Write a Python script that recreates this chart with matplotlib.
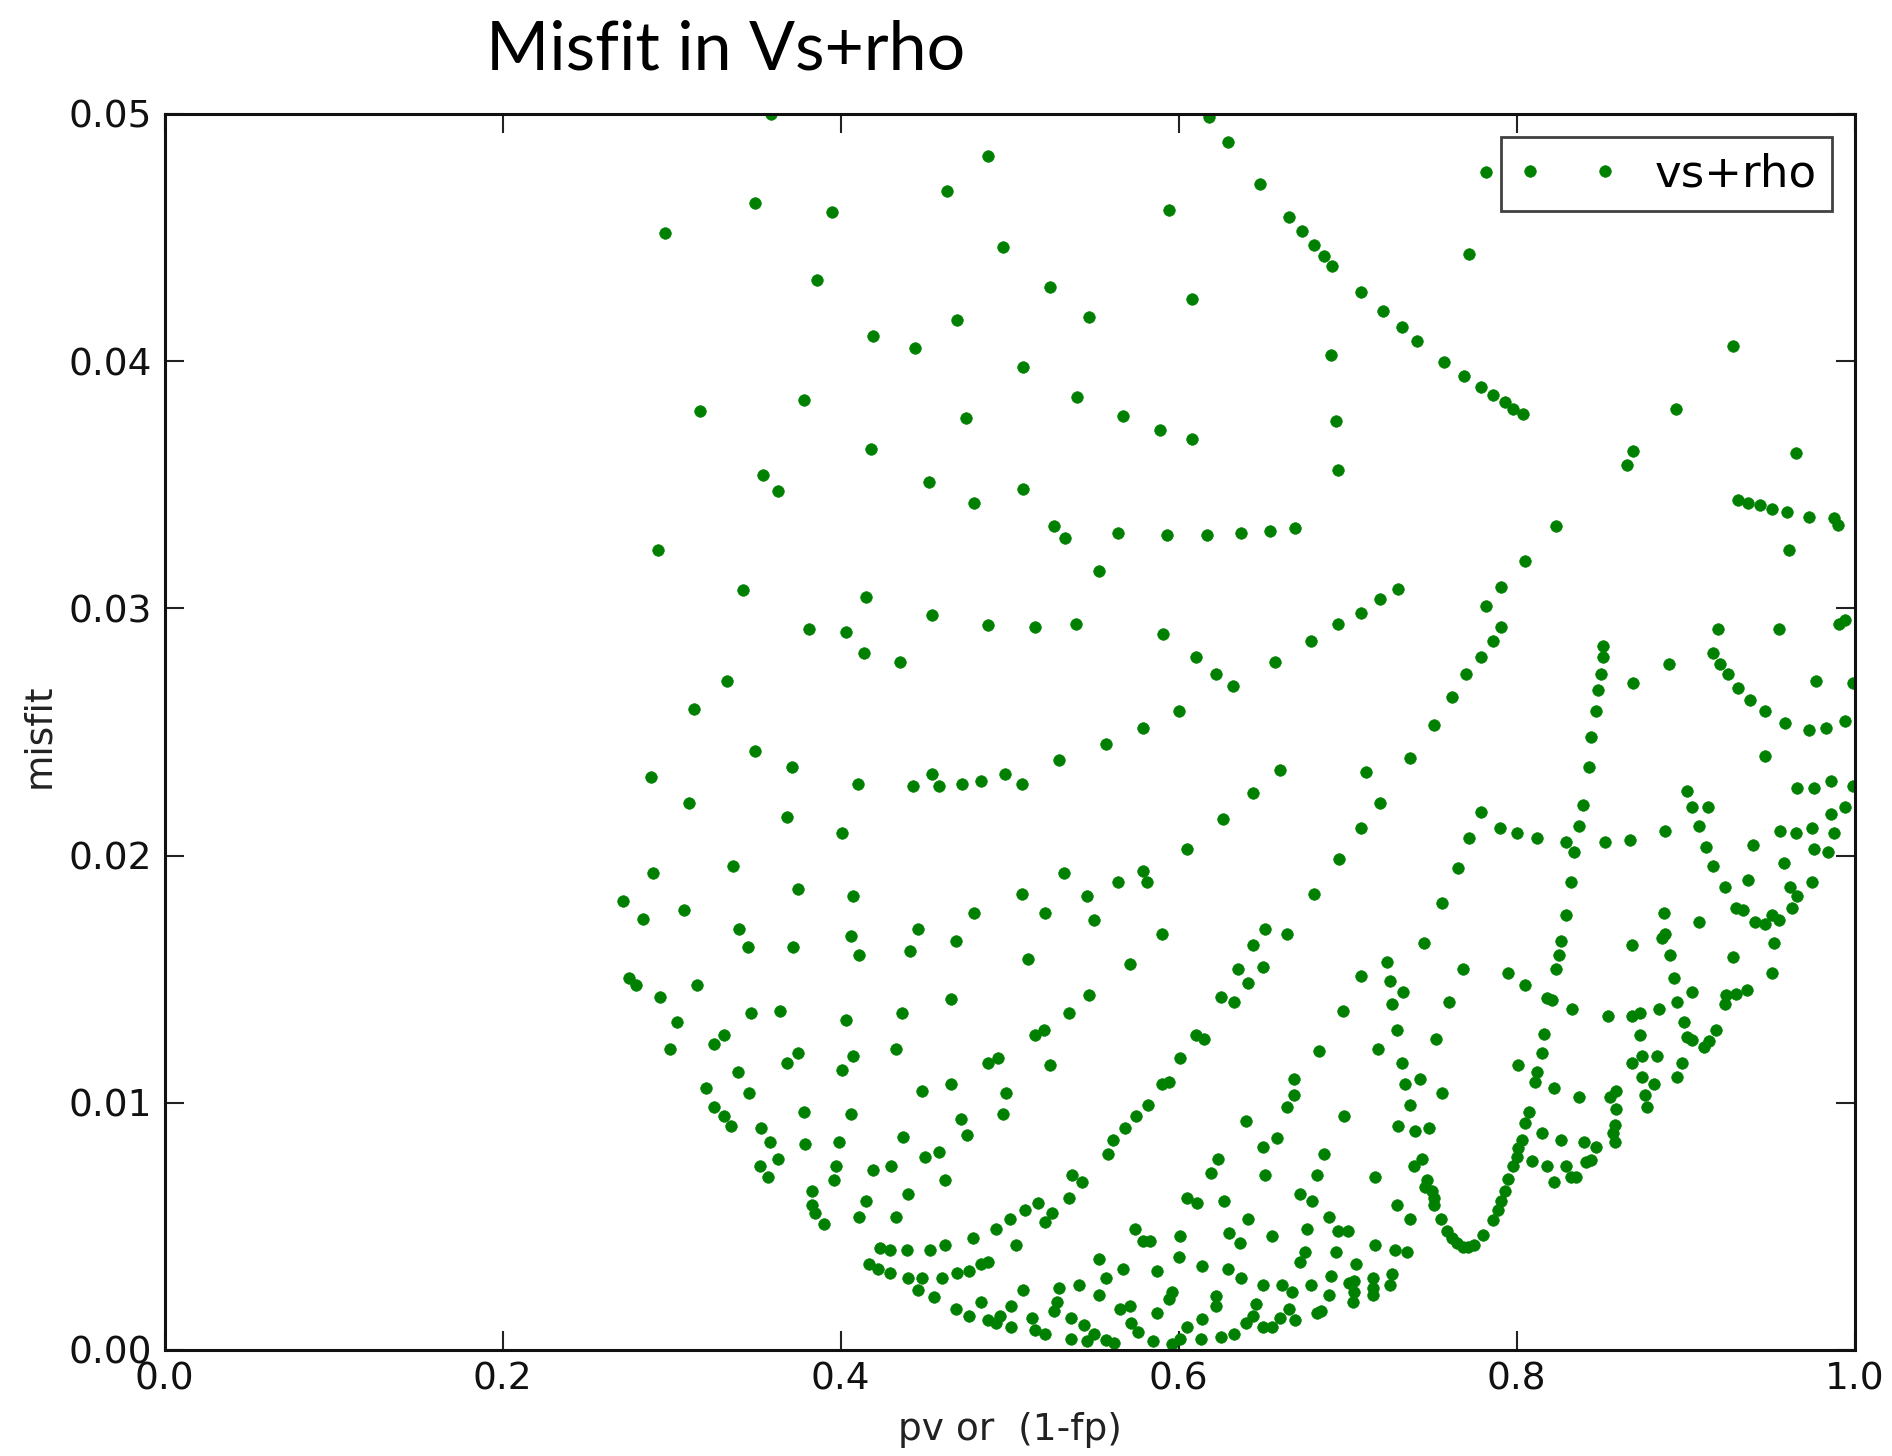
import matplotlib
matplotlib.use("Agg")
import matplotlib.pyplot as plt

# Misfit of the vs+rho inversion against pv / (1-fp)
pv = [
    # upper-left fan
    0.359, 0.487, 0.463, 0.349, 0.395, 0.296, 0.496, 0.386, 0.469, 0.419,
    0.444, 0.508, 0.317, 0.378, 0.474, 0.418, 0.354, 0.363, 0.452, 0.479,
    0.508,
    # upper-middle arcs
    0.618, 0.629, 0.648, 0.594, 0.665, 0.673, 0.680, 0.686, 0.691, 0.524,
    0.608, 0.547, 0.708, 0.721, 0.732, 0.741, 0.757, 0.690, 0.540, 0.567,
    0.589, 0.608, 0.693, 0.694,
    # upper-right
    0.782, 0.772, 0.928, 0.769, 0.779, 0.786, 0.793, 0.798, 0.804, 0.894,
    0.869, 0.865, 0.965, 0.931, 0.937, 0.944, 0.951, 0.960, 0.973, 0.988,
    0.990,
    # middle-left
    0.292, 0.342, 0.415, 0.454, 0.487, 0.381, 0.403, 0.414, 0.435, 0.333,
    0.313, 0.349, 0.371, 0.288, 0.410, 0.443, 0.454, 0.458, 0.472, 0.483,
    0.497, 0.507, 0.310, 0.368, 0.401, 0.289, 0.336, 0.375, 0.407, 0.507,
    0.271, 0.283, 0.307, 0.479, 0.340, 0.406, 0.446, 0.468,
    # middle
    0.526, 0.533, 0.564, 0.593, 0.617, 0.637, 0.654, 0.669, 0.553, 0.515,
    0.539, 0.591, 0.610, 0.622, 0.632, 0.657, 0.678, 0.694, 0.708, 0.719,
    0.730, 0.751, 0.737, 0.711, 0.719, 0.708, 0.695, 0.680, 0.756, 0.745,
    0.600, 0.579, 0.557, 0.529, 0.660, 0.644, 0.626, 0.605, 0.579, 0.581,
    0.564, 0.546, 0.532, 0.521, 0.550, 0.590, 0.651, 0.664, 0.644,
    # middle-right
    0.823, 0.961, 0.805, 0.791, 0.782, 0.791, 0.786, 0.779, 0.770, 0.762,
    0.919, 0.955, 0.991, 0.994, 0.851, 0.851, 0.850, 0.848, 0.847, 0.844,
    0.843, 0.839, 0.837, 0.834, 0.829, 0.832, 0.829, 0.826, 0.869, 0.890,
    0.916, 0.920, 0.925, 0.931, 0.938, 0.947, 0.959, 0.973, 0.983, 0.994,
    0.977, 0.999, 0.947, 0.966, 0.976, 0.986, 0.999, 0.994, 0.986, 0.975,
    0.988, 0.956, 0.965, 0.976, 0.984, 0.958, 0.975, 0.962, 0.966, 0.963,
    0.940, 0.937, 0.901, 0.904, 0.913, 0.908, 0.912, 0.916, 0.923, 0.930,
    0.934, 0.941, 0.947, 0.951, 0.955, 0.952, 0.888, 0.867, 0.852, 0.812,
    0.800, 0.790, 0.779, 0.772, 0.765, 0.887, 0.888, 0.886, 0.908, 0.868,
    # lower-left
    0.345, 0.372, 0.411, 0.441, 0.511, 0.275, 0.279, 0.315, 0.293, 0.465,
    0.347, 0.364, 0.403, 0.436, 0.303, 0.331, 0.325, 0.299, 0.433, 0.375,
    0.368, 0.407, 0.401, 0.487, 0.493, 0.339, 0.320, 0.346, 0.448, 0.465,
    0.498, 0.325, 0.331, 0.335, 0.378, 0.406, 0.496, 0.471, 0.475, 0.353,
    0.358, 0.379, 0.399, 0.437, 0.363, 0.352, 0.357, 0.397, 0.396, 0.419,
    0.430, 0.450, 0.458, 0.462, 0.440, 0.383, 0.383, 0.385, 0.390, 0.415,
    0.411, 0.433, 0.509, 0.500, 0.492, 0.478, 0.504, 0.462, 0.453, 0.439,
    0.429, 0.423, 0.417, 0.422, 0.429, 0.440, 0.448, 0.460, 0.469, 0.476,
    0.483, 0.487, 0.446, 0.455, 0.468, 0.476, 0.483, 0.487, 0.492, 0.494,
    0.501, 0.501, 0.508,
    # lower-middle
    0.571, 0.635, 0.650, 0.641, 0.625, 0.633, 0.547, 0.535, 0.520, 0.515,
    0.524, 0.601, 0.610, 0.615, 0.590, 0.594, 0.582, 0.575, 0.568, 0.561,
    0.558, 0.537, 0.543, 0.535, 0.517, 0.525, 0.521, 0.574, 0.579, 0.583,
    0.601, 0.600, 0.553, 0.567, 0.587, 0.557, 0.541, 0.529, 0.553, 0.528,
    0.526, 0.513, 0.515, 0.521, 0.536, 0.544, 0.550, 0.546, 0.536, 0.557,
    0.562, 0.565, 0.571, 0.572, 0.576, 0.585, 0.587, 0.594, 0.596, 0.596,
    0.601, 0.605, 0.613, 0.614, 0.622, 0.622, 0.625, 0.633, 0.614, 0.629,
    0.637, 0.650, 0.646, 0.644, 0.640, 0.650, 0.655, 0.660, 0.665, 0.669,
    0.661, 0.667, 0.678, 0.690, 0.689, 0.684, 0.682, 0.705, 0.701, 0.704,
    0.704, 0.703, 0.715, 0.715, 0.715, 0.726, 0.725, 0.716, 0.728, 0.735,
    0.693, 0.675, 0.672, 0.676, 0.694, 0.700, 0.689, 0.655, 0.630, 0.636,
    0.641, 0.627, 0.605, 0.611, 0.672, 0.679, 0.619, 0.623, 0.651, 0.682,
    0.686, 0.650, 0.658, 0.640, 0.698, 0.664, 0.668, 0.668, 0.683, 0.697,
    0.708, 0.723, 0.725, 0.733, 0.726, 0.729, 0.718, 0.732, 0.734, 0.743,
    0.737, 0.730, 0.740, 0.748, 0.752, 0.760, 0.756, 0.744, 0.739, 0.716,
    0.747, 0.746, 0.750, 0.751, 0.751, 0.729, 0.737, 0.755, 0.759,
    # lower-right
    0.768, 0.795, 0.805, 0.825, 0.823, 0.818, 0.821, 0.833, 0.891, 0.893,
    0.904, 0.895, 0.884, 0.873, 0.868, 0.854, 0.928, 0.951, 0.936, 0.930,
    0.924, 0.923, 0.918, 0.914, 0.911, 0.904, 0.901, 0.899, 0.898, 0.895,
    0.873, 0.874, 0.883, 0.868, 0.874, 0.881, 0.876, 0.877, 0.816, 0.815,
    0.801, 0.812, 0.811, 0.822, 0.837, 0.859, 0.855, 0.859, 0.858, 0.857,
    0.858, 0.807, 0.805, 0.803, 0.801, 0.800, 0.798, 0.795, 0.793, 0.791,
    0.789, 0.786, 0.780, 0.775, 0.771, 0.768, 0.7645, 0.762, 0.815, 0.826,
    0.840, 0.847, 0.809, 0.818, 0.829, 0.844, 0.841, 0.832, 0.835, 0.822,
]

misfit = [
    # upper-left fan
    0.05000, 0.04830, 0.04689, 0.04640, 0.04602, 0.04517, 0.04461, 0.04328, 0.04167, 0.04101,
    0.04052, 0.03978, 0.03797, 0.03844, 0.03769, 0.03645, 0.03541, 0.03475, 0.03513, 0.03426,
    0.03484,
    # upper-middle arcs
    0.04989, 0.04887, 0.04717, 0.04612, 0.04583, 0.04527, 0.04470, 0.04424, 0.04386, 0.04299,
    0.04252, 0.04178, 0.04281, 0.04204, 0.04138, 0.04083, 0.03997, 0.04025, 0.03855, 0.03780,
    0.03722, 0.03684, 0.03759, 0.03561,
    # upper-right
    0.04765, 0.04432, 0.04061, 0.03940, 0.03894, 0.03865, 0.03836, 0.03807, 0.03788, 0.03805,
    0.03637, 0.03579, 0.03627, 0.03439, 0.03428, 0.03418, 0.03401, 0.03390, 0.03371, 0.03364,
    0.03337,
    # middle-left
    0.03238, 0.03076, 0.03047, 0.02972, 0.02934, 0.02915, 0.02904, 0.02820, 0.02782, 0.02706,
    0.02593, 0.02423, 0.02357, 0.02319, 0.02290, 0.02282, 0.02329, 0.02282, 0.02290, 0.02301,
    0.02329, 0.02290, 0.02214, 0.02157, 0.02091, 0.01931, 0.01958, 0.01864, 0.01835, 0.01845,
    0.01818, 0.01742, 0.01779, 0.01769, 0.01703, 0.01675, 0.01703, 0.01655,
    # middle
    0.03333, 0.03286, 0.03304, 0.03296, 0.03296, 0.03304, 0.03313, 0.03324, 0.03153, 0.02926,
    0.02935, 0.02896, 0.02802, 0.02736, 0.02685, 0.02783, 0.02868, 0.02935, 0.02983, 0.03039,
    0.03077, 0.02528, 0.02395, 0.02337, 0.02214, 0.02110, 0.01986, 0.01845, 0.01807, 0.01645,
    0.02584, 0.02518, 0.02451, 0.02385, 0.02348, 0.02252, 0.02148, 0.02025, 0.01939, 0.01892,
    0.01892, 0.01835, 0.01931, 0.01769, 0.01741, 0.01683, 0.01703, 0.01683, 0.01637,
    # middle-right
    0.03333, 0.03238, 0.03190, 0.03085, 0.03010, 0.02925, 0.02868, 0.02802, 0.02736, 0.02640,
    0.02915, 0.02915, 0.02935, 0.02953, 0.02848, 0.02802, 0.02736, 0.02669, 0.02584, 0.02480,
    0.02357, 0.02205, 0.02121, 0.02016, 0.02054, 0.01892, 0.01760, 0.01655, 0.02698, 0.02774,
    0.02821, 0.02774, 0.02736, 0.02679, 0.02631, 0.02584, 0.02536, 0.02508, 0.02518, 0.02546,
    0.02706, 0.02697, 0.02404, 0.02272, 0.02272, 0.02301, 0.02282, 0.02195, 0.02167, 0.02110,
    0.02091, 0.02101, 0.02091, 0.02025, 0.02016, 0.01969, 0.01892, 0.01873, 0.01835, 0.01788,
    0.02044, 0.01901, 0.02263, 0.02195, 0.02195, 0.02121, 0.02035, 0.01958, 0.01873, 0.01788,
    0.01779, 0.01731, 0.01722, 0.01760, 0.01741, 0.01646, 0.02101, 0.02063, 0.02054, 0.02073,
    0.02091, 0.02110, 0.02176, 0.02073, 0.01948, 0.01769, 0.01684, 0.01665, 0.01731, 0.01637,
    # lower-left
    0.01629, 0.01629, 0.01598, 0.01615, 0.01580, 0.01505, 0.01477, 0.01477, 0.01428, 0.01419,
    0.01363, 0.01371, 0.01333, 0.01363, 0.01325, 0.01276, 0.01238, 0.01219, 0.01219, 0.01200,
    0.01163, 0.01191, 0.01134, 0.01163, 0.01181, 0.01123, 0.01059, 0.01040, 0.01049, 0.01077,
    0.01040, 0.00983, 0.00945, 0.00907, 0.00964, 0.00955, 0.00955, 0.00936, 0.00870, 0.00898,
    0.00841, 0.00832, 0.00841, 0.00860, 0.00774, 0.00746, 0.00699, 0.00746, 0.00689, 0.00727,
    0.00746, 0.00782, 0.00802, 0.00689, 0.00631, 0.00642, 0.00587, 0.00555, 0.00508, 0.00604,
    0.00537, 0.00537, 0.00566, 0.00529, 0.00489, 0.00453, 0.00424, 0.00424, 0.00405, 0.00405,
    0.00405, 0.00414, 0.00348, 0.00328, 0.00310, 0.00290, 0.00290, 0.00290, 0.00310, 0.00320,
    0.00348, 0.00356, 0.00243, 0.00214, 0.00167, 0.00139, 0.00195, 0.00120, 0.00110, 0.00139,
    0.00177, 0.00092, 0.00243,
    # lower-middle
    0.01561, 0.01542, 0.01551, 0.01485, 0.01428, 0.01409, 0.01437, 0.01362, 0.01294, 0.01274,
    0.01153, 0.01181, 0.01276, 0.01257, 0.01076, 0.01085, 0.00992, 0.00945, 0.00897, 0.00850,
    0.00793, 0.00708, 0.00680, 0.00614, 0.00595, 0.00555, 0.00518, 0.00491, 0.00442, 0.00442,
    0.00462, 0.00376, 0.00367, 0.00328, 0.00320, 0.00290, 0.00262, 0.00252, 0.00224, 0.00193,
    0.00158, 0.00129, 0.00082, 0.00063, 0.00129, 0.00101, 0.00063, 0.00035, 0.00044, 0.00040,
    0.00027, 0.00167, 0.00177, 0.00108, 0.00073, 0.00035, 0.00148, 0.00205, 0.00233, 0.00023,
    0.00044, 0.00092, 0.00044, 0.00124, 0.00218, 0.00177, 0.00054, 0.00063, 0.00339, 0.00329,
    0.00290, 0.00262, 0.00186, 0.00139, 0.00110, 0.00092, 0.00092, 0.00129, 0.00167, 0.00120,
    0.00262, 0.00233, 0.00262, 0.00299, 0.00224, 0.00158, 0.00148, 0.00348, 0.00271, 0.00280,
    0.00233, 0.00195, 0.00290, 0.00252, 0.00224, 0.00309, 0.00262, 0.00424, 0.00405, 0.00395,
    0.00395, 0.00395, 0.00357, 0.00491, 0.00482, 0.00482, 0.00538, 0.00462, 0.00472, 0.00434,
    0.00529, 0.00604, 0.00614, 0.00595, 0.00633, 0.00604, 0.00718, 0.00774, 0.00708, 0.00708,
    0.00793, 0.00821, 0.00859, 0.00926, 0.00945, 0.00983, 0.01030, 0.01096, 0.01210, 0.01371,
    0.01514, 0.01571, 0.01494, 0.01447, 0.01400, 0.01294, 0.01219, 0.01163, 0.01076, 0.01096,
    0.00992, 0.00907, 0.00887, 0.00897, 0.01257, 0.01409, 0.01040, 0.00774, 0.00746, 0.00699,
    0.00689, 0.00661, 0.00642, 0.00614, 0.00585, 0.00585, 0.00529, 0.00529, 0.00482,
    # lower-right
    0.01541, 0.01524, 0.01477, 0.01598, 0.01541, 0.01424, 0.01416, 0.01381, 0.01598, 0.01503,
    0.01447, 0.01409, 0.01381, 0.01362, 0.01352, 0.01352, 0.01590, 0.01524, 0.01456, 0.01440,
    0.01438, 0.01398, 0.01296, 0.01249, 0.01227, 0.01254, 0.01268, 0.01325, 0.01163, 0.01106,
    0.01274, 0.01191, 0.01191, 0.01163, 0.01106, 0.01077, 0.01030, 0.00984, 0.01277, 0.01200,
    0.01153, 0.01126, 0.01085, 0.01058, 0.01022, 0.01049, 0.01022, 0.00974, 0.00909, 0.00876,
    0.00843, 0.00963, 0.00917, 0.00850, 0.00816, 0.00782, 0.00744, 0.00690, 0.00644, 0.00604,
    0.00566, 0.00526, 0.00465, 0.00425, 0.00418, 0.00418, 0.00432, 0.00452, 0.00879, 0.00850,
    0.00840, 0.00820, 0.00765, 0.00744, 0.00744, 0.00769, 0.00759, 0.00699, 0.00699, 0.00678,
]

x_ticks = [0.0, 0.2, 0.4, 0.6, 0.8, 1.0]
y_ticks = [0.00, 0.01, 0.02, 0.03, 0.04, 0.05]
x_ticklabels = ["0.0", "0.2", "0.4", "0.6", "0.8", "1.0"]
y_ticklabels = ["0.00", "0.01", "0.02", "0.03", "0.04", "0.05"]

W, H, DPI = 1892, 1456, 100
fig = plt.figure(figsize=(W / DPI, H / DPI), dpi=DPI, facecolor="white")
ax = fig.add_axes([164.7 / W, 1 - 1350 / H, 1690 / W, 1236 / H])

ax.plot(pv, misfit, linestyle="none", marker="o", markersize=8.4,
        color="#008000", markeredgecolor="#008000", markeredgewidth=0.4,
        label="vs+rho")

ax.set_xlim(0, 1)
ax.set_ylim(0, 0.05)
ax.set_xticks(x_ticks)
ax.set_xticklabels(x_ticklabels)
ax.set_yticks(y_ticks)
ax.set_yticklabels(y_ticklabels)

tick_font = {"family": "DejaVu Sans", "size": 27}
for lab in ax.get_xticklabels() + ax.get_yticklabels():
    lab.set_fontfamily("DejaVu Sans")
    lab.set_fontsize(27)
ax.tick_params(direction="in", length=14, width=1.5, top=True, right=True,
               color="#222222", labelcolor="#111111")
ax.tick_params(axis="x", pad=8)
ax.tick_params(axis="y", pad=9)
for sp in ax.spines.values():
    sp.set_linewidth(2.2)
    sp.set_color("#111111")

ax.set_xlabel("pv or  (1-fp)", fontdict=tick_font, color="#222222")
ax.set_ylabel("misfit", fontdict=tick_font, color="#222222")
ax.xaxis.label.set_va("center")
ax.yaxis.label.set_va("center")
ax.xaxis.set_label_coords(0.5, (1350 - 1430) / 1236)
ax.yaxis.set_label_coords((39 - 164.7) / 1690, 0.497)

leg = ax.legend(loc="upper right", numpoints=2, fancybox=False,
                prop={"family": "DejaVu Sans", "size": 32.5},
                handlelength=2.25, handletextpad=0.8, borderpad=0.35,
                borderaxespad=0.5, frameon=True)
leg.get_frame().set_edgecolor("#111111")
leg.get_frame().set_linewidth(2.0)

fig.text(486 / W, 1 - 70 / H, "Misfit in Vs+rho", family="Lato",
         fontsize=49, ha="left", va="baseline", color="black")

fig.savefig("out.png", dpi=DPI, facecolor="white")
